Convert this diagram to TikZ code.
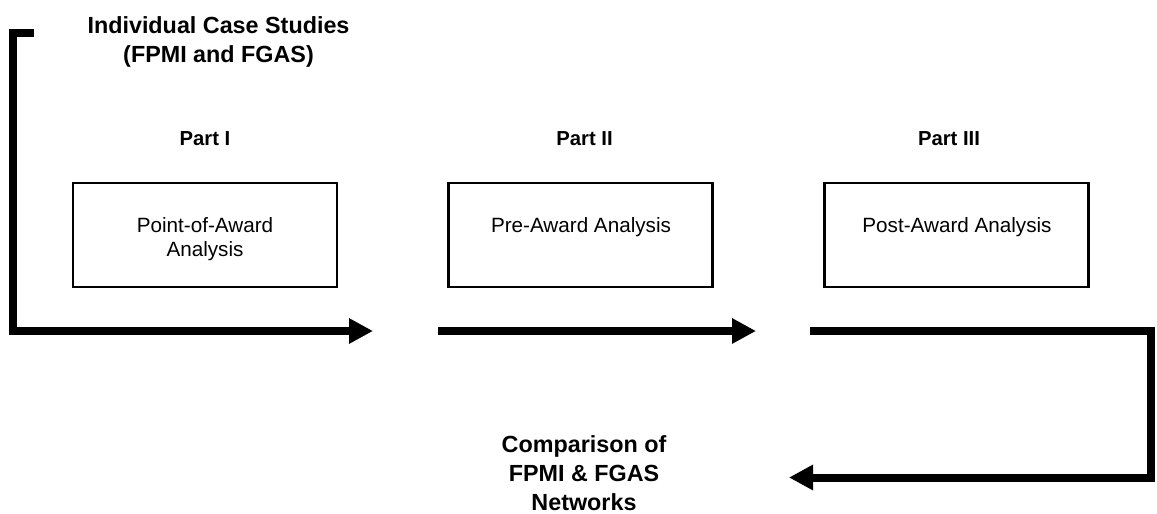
\documentclass[tikz,border=0pt]{standalone}
\usepackage{fontspec}
\setmainfont{Liberation Sans}
\usetikzlibrary{arrows.meta}
\begin{document}
\begin{tikzpicture}[x=0.75pt,y=-0.75pt,
  flow/.style={line width=6pt, line join=miter, line cap=butt},
  tipped/.style={-{Triangle[length=18pt,width=18pt]}},
  stagebox/.style={draw, line width=1.7pt, minimum width=198pt, minimum height=78pt, inner sep=0pt},
  stagetext/.style={font=\fontsize{15.5pt}{18pt}\selectfont, align=center, anchor=base, inner sep=0pt},
  parttitle/.style={font=\fontsize{15.2pt}{18pt}\selectfont\bfseries, anchor=base, inner sep=0pt},
  headline/.style={font=\fontsize{17.5pt}{21.4pt}\selectfont\bfseries, align=center, anchor=base, inner sep=0pt}]
  \useasboundingbox (0,0) rectangle (1157,514);

  % headings (placed by the baseline of their last line)
  \node[headline] (cases) at (218.5,62) {Individual Case Studies\\(FPMI and FGAS)};
  \node[headline] (compare) at (584,510) {Comparison of\\FPMI \& FGAS\\Networks};

  % the three parts
  \node[parttitle] (p1) at (205,145) {Part I};
  \node[parttitle] (p2) at (584.5,145) {Part II};
  \node[parttitle] (p3) at (949,145) {Part III};

  \node[stagebox] (b1) at (205,235) {};
  \node[stagebox] (b2) at (580.5,235) {};
  \node[stagebox] (b3) at (956.5,235) {};

  \node[stagetext] (t1) at (205,256) {Point-of-Award\\Analysis};
  \node[stagetext] (t2) at (581,232) {Pre-Award Analysis};
  \node[stagetext] (t3) at (957,232) {Post-Award Analysis};

  % flow path
  \coordinate (s1) at (34,32.5);
  \coordinate (c1) at (13,32.5);
  \coordinate (c2) at (13,331);
  \coordinate (e1) at (373,331);
  \coordinate (s2) at (438,331);
  \coordinate (e2) at (756,331);
  \coordinate (s3) at (810,331);
  \coordinate (c3) at (1151,331);
  \coordinate (c4) at (1151,477.5);
  \coordinate (e3) at (789,477.5);

  \draw[flow, tipped] (s1) -- (c1) -- (c2) -- (e1);
  \draw[flow, tipped] (s2) -- (e2);
  \draw[flow, tipped] (s3) -- (c3) -- (c4) -- (e3);
\end{tikzpicture}
\end{document}
